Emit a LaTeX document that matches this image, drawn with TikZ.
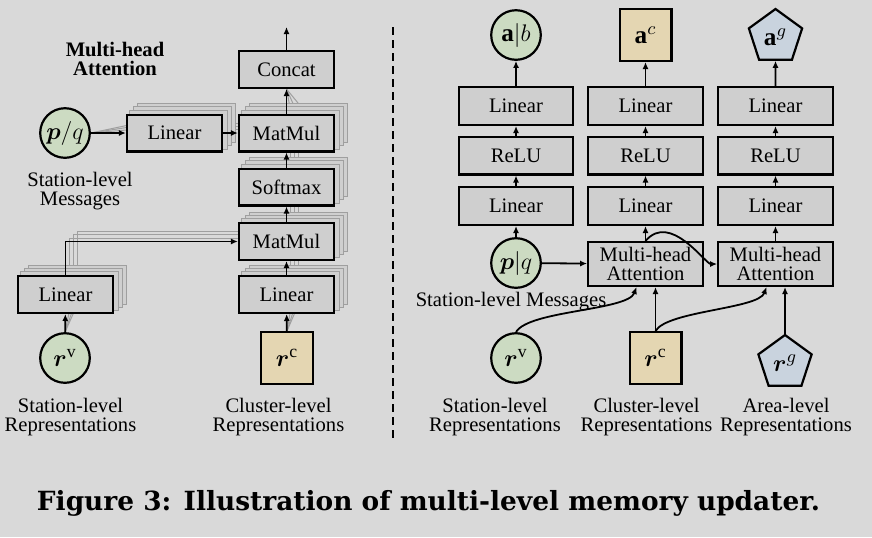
\documentclass[tikz,border=0pt]{standalone}
\usepackage{amsmath}
\usepackage{fontspec}
\setmainfont{Liberation Serif}
\newfontfamily\capfont{DejaVu Serif}
\usepackage{tikz}
\usetikzlibrary{arrows.meta,shapes,calc,backgrounds}
\usetikzlibrary{positioning}

\definecolor{pagegray}{HTML}{D9D9D9}
\definecolor{boxgray}{HTML}{CFCFCF}
\definecolor{stationgreen}{HTML}{CCDBC2}
\definecolor{clustertan}{HTML}{E4D6B2}
\definecolor{areablue}{HTML}{C9D3DE}

\newcommand\headcopies[1]{% boxes of the other heads
  \foreach \k in {3,2,1}{
    \draw[copybox] ($(#1.south west)+(4*\k,3.3*\k)$) rectangle ($(#1.north east)+(4*\k,3.3*\k)$);
  }
}

\tikzset{
  opbox/.style={draw,line width=1.1pt,fill=boxgray,minimum width=47.5pt,minimum height=18.4pt,inner sep=1pt},
  wideop/.style={opbox,minimum width=57.3pt,minimum height=18.9pt},
  mhabox/.style={wideop,minimum height=21.9pt,align=center,font=\fontsize{10.3}{9.3}\selectfont},
  copybox/.style={draw=gray!75,line width=0.5pt,fill=boxgray},
  copyline/.style={draw=gray!75,line width=0.5pt},
  arr/.style={-{Latex[length=3.5pt,width=3pt]},line width=0.9pt},
  vnode/.style={circle,draw,line width=1.1pt,fill=stationgreen,minimum size=24.8pt,inner sep=0pt,font=\fontsize{12.6}{12.6}\selectfont},
  cnode/.style={rectangle,draw,line width=1.1pt,fill=clustertan,minimum size=25.9pt,inner sep=0pt,font=\fontsize{12.6}{12.6}\selectfont},
  gnode/.style={regular polygon,regular polygon sides=5,draw,line width=1.1pt,fill=areablue,minimum size=28pt,inner sep=0pt,font=\fontsize{12.6}{12.6}\selectfont},
  txt/.style={align=center,inner sep=0pt},
  title/.style={txt,font=\fontsize{10.3}{9.8}\selectfont\bfseries},
  sep/.style={line width=1pt,dash pattern=on 4pt off 2.5pt}
}

\begin{document}
\begin{tikzpicture}[x=0.5pt,y=0.5pt,font=\fontsize{10.3}{9.5}\selectfont]
  \useasboundingbox (0,0) rectangle (872,-537);
  \begin{scope}[on background layer]
    \fill[pagegray] (0,0) rectangle (872,-537);
  \end{scope}
  % left: the multi-head attention block
  \node[title] (mhtitle) at (115,-59) {Multi-head\\Attention};
  \node[opbox] (concat) at (286.5,-69.5) {Concat};
  \coordinate (mhout) at (286.5,-27);
  \node[opbox] (mm1) at (286.5,-133) {MatMul};
  \node[opbox] (lin1) at (174.5,-133) {Linear};
  \node[vnode] (pq) at (65,-133) {$\boldsymbol{p}/q$};
  \node[txt] (pqlab) at (80,-191) {Station-level\\Messages};
  \node[opbox] (soft) at (286.5,-187) {Softmax};
  \node[opbox] (mm2) at (286.5,-241.5) {MatMul};
  \node[opbox] (lin2) at (286.5,-294.5) {Linear};
  \node[opbox] (lin3) at (65.5,-294.5) {Linear};
  \node[vnode] (rv) at (65,-358) {$\boldsymbol{r}^{\mathrm{v}}$};
  \node[cnode] (rc) at (287,-358) {$\boldsymbol{r}^{\mathrm{c}}$};
  \node[txt] (rvlab) at (70.5,-417.5) {Station-level\\Representations};
  \node[txt] (rclab) at (278.5,-417.5) {Cluster-level\\Representations};

  \begin{scope}[on background layer]
    \foreach \k in {1,2,3}{
      \draw[copyline] (pq.east) -- ($(lin1.west)+(4*\k,3.3*\k)$);
      \draw[copyline] ($(lin1.east)+(4*\k,3.3*\k)$) -- ($(mm1.west)+(4*\k,3.3*\k)$);
      \draw[copyline] ($(mm1.north)+(4*\k,3.3*\k)$) -- (concat.south);
      \draw[copyline] ($(soft.north)+(4*\k,3.3*\k)$) -- ($(mm1.south)+(4*\k,3.3*\k)$);
      \draw[copyline] ($(mm2.north)+(4*\k,3.3*\k)$) -- ($(soft.south)+(4*\k,3.3*\k)$);
      \draw[copyline] ($(lin2.north)+(4*\k,3.3*\k)$) -- ($(mm2.south)+(4*\k,3.3*\k)$);
      \draw[copyline] ($(lin3.north)+(4*\k,3.3*\k)$) |- ($(mm2.west)+(4*\k,3.3*\k)$);
      \draw[copyline] (rv.north) -- ($(lin3.south)+(4*\k,3.3*\k)$);
      \draw[copyline] (rc.north) -- ($(lin2.south)+(4*\k,3.3*\k)$);
    }
    \headcopies{lin1}
    \headcopies{mm1}
    \headcopies{soft}
    \headcopies{mm2}
    \headcopies{lin2}
    \headcopies{lin3}
  \end{scope}

  \draw[arr] (concat.north) -- (mhout);
  \draw[arr] (pq) -- (lin1);
  \draw[arr] (lin1) -- (mm1);
  \draw[arr] (mm1) -- (concat);
  \draw[arr] (soft) -- (mm1);
  \draw[arr] (mm2) -- (soft);
  \draw[arr] (lin2) -- (mm2);
  \draw[arr] (rc) -- (lin2);
  \draw[arr] (rv) -- (lin3);
  \draw[arr] (lin3.north) |- (mm2.west);

  \coordinate (septop) at (393,-27);
  \coordinate (sepbot) at (393,-440);
  \draw[sep] (septop) -- (sepbot);

  % right: the three updaters
  \foreach \n/\x in {1/516,2/645.5,3/775.5}{
    \node[wideop] (top\n) at (\x,-106) {Linear};
    \node[wideop] (relu\n) at (\x,-155.5) {ReLU};
    \node[wideop] (bot\n) at (\x,-206) {Linear};
    \draw[arr] (bot\n) -- (relu\n);
    \draw[arr] (relu\n) -- (top\n);
  }
  \node[vnode] (ab) at (516,-35) {$\mathbf{a}|b$};
  \node[cnode] (ac) at (645.5,-35) {$\mathbf{a}^c$};
  \node[gnode] (ag) at (775.5,-37) {$\mathbf{a}^g$};
  \draw[arr] (top1) -- (ab);
  \draw[arr] (top2) -- (ac);
  \draw[arr] (top3.north) -- (ag.south);

  \node[mhabox] (mha1) at (645.5,-264) {Multi-head\\Attention};
  \node[mhabox] (mha2) at (775.5,-264) {Multi-head\\Attention};
  \node[vnode] (pq2) at (516,-263) {$\boldsymbol{p}|q$};
  \node[txt] (pq2lab) at (511,-302) {Station-level Messages};
  \node[vnode] (rv2) at (516,-358) {$\boldsymbol{r}^{\mathrm{v}}$};
  \node[cnode] (rc2) at (655.5,-358) {$\boldsymbol{r}^{\mathrm{c}}$};
  \node[gnode] (rg) at (785,-363) {$\boldsymbol{r}^{g}$};
  \node[txt] (rv2lab) at (495,-417.5) {Station-level\\Representations};
  \node[txt] (rc2lab) at (646.5,-417.5) {Cluster-level\\Representations};
  \node[txt] (rglab) at (786,-417.5) {Area-level\\Representations};

  \draw[arr] (pq2) -- (bot1);
  \draw[arr] (pq2) -- (mha1);
  \draw[arr] (mha1) -- (bot2);
  \draw[arr] (mha2) -- (bot3);
  \draw[arr] (mha1.north) to[out=50,in=180,out looseness=1.3,in looseness=0.4] (mha2.west);
  \draw[arr] (rv2.north) to[out=60,in=-110,looseness=0.5] ([xshift=-4.5pt]mha1.south);
  \draw[arr] (rc2.north) -- (rc2.north |- mha1.south);
  \draw[arr] (rc2.north) to[out=60,in=-110,looseness=0.5] ([xshift=-4.5pt]mha2.south);
  \draw[arr] (rg.north) -- (rg.north |- mha2.south);

  \node[anchor=base] (caption) at (428.5,-510) {\resizebox{391.5pt}{!}{\capfont\bfseries Figure 3: Illustration of multi-level memory updater.}};
\end{tikzpicture}
\end{document}
